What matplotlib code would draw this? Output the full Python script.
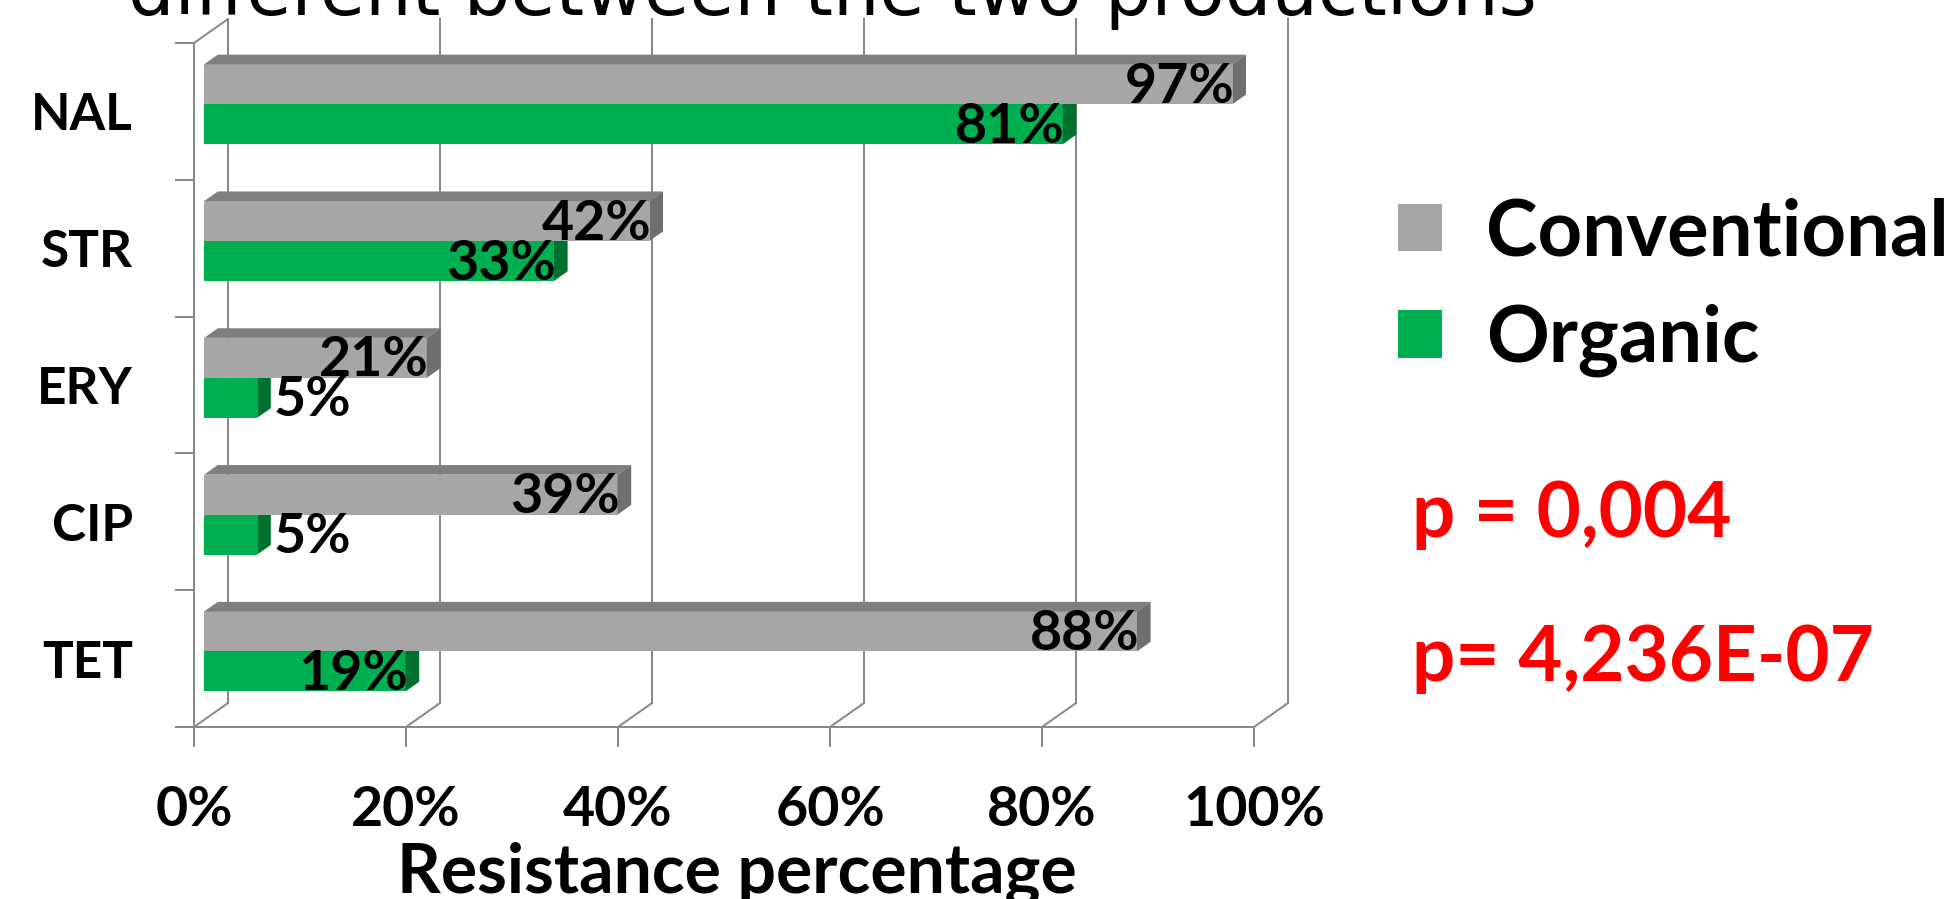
import matplotlib
matplotlib.use("Agg")
import matplotlib.pyplot as plt
from matplotlib.patches import Polygon, Patch

# ---------------- data ----------------
categories = ["NAL", "STR", "ERY", "CIP", "TET"]
conventional = [97, 42, 21, 39, 88]
organic = [81, 33, 5, 5, 19]
series_names = ["Conventional", "Organic"]
xticks = [0, 20, 40, 60, 80, 100]
xtick_labels = ["0%", "20%", "40%", "60%", "80%", "100%"]
pvalue_texts = ["p = 0,004", "p= 4,236E-07"]
title_text = "different between the two productions"
xlabel_text = "Resistance percentage"

# ---------------- style ----------------
W, H = 1960, 899
GRID = "#898989"
GRAY_FRONT, GRAY_TOP, GRAY_SIDE = "#A6A6A6", "#7F7F7F", "#6F6F6F"
GREEN_FRONT, GREEN_TOP, GREEN_SIDE = "#00B050", "#008A3E", "#00702F"
FONT = "Lato"
LW = 1.44

fig = plt.figure(figsize=(W / 100, H / 100), dpi=100)


def px_rect(x0, y0, x1, y1):
    return [x0 / W, 1 - y1 / H, (x1 - x0) / W, (y1 - y0) / H]


ax = fig.add_axes(px_rect(194, 43, 1254, 727))
n = len(categories)
ax.set_xlim(0, 100)
ax.set_ylim(0, n)

# depth vector of the pseudo-3D box (data units)
DX = 34 / 1060 * 100
DY = 24 / 684 * n
F0 = 0.30      # depth of bar front face
DEPTH = 0.40   # bar thickness (fraction of box depth)
BAR_H = 0.292

# back wall + floor grid
for t in xticks:
    ax.plot([t, t + DX], [0, DY], color=GRID, lw=LW, clip_on=False, zorder=1)
    ax.plot([t + DX, t + DX], [DY, n + DY], color=GRID, lw=LW, clip_on=False, zorder=1)
ax.plot([0, DX], [n, n + DY], color=GRID, lw=LW, clip_on=False, zorder=1)

for s in ["top", "right"]:
    ax.spines[s].set_visible(False)
for s in ["left", "bottom"]:
    ax.spines[s].set_color(GRID)
    ax.spines[s].set_linewidth(LW)
ax.set_facecolor("none")

ax.set_xticks(xticks, xtick_labels)
ax.tick_params(axis="x", length=14.4, width=LW, color=GRID, pad=27,
               labelsize=40)
for lab in ax.get_xticklabels():
    lab.set_fontfamily(FONT)
    lab.set_fontweight("bold")

ax.set_yticks(range(n + 1))
ax.set_yticklabels([])
ax.tick_params(axis="y", which="major", length=13.7, width=LW, color=GRID)
centers = [n - 1 - k + 0.5 for k in range(n)]
ax.set_yticks(centers, minor=True)
ax.set_yticklabels(categories, minor=True)
ax.tick_params(axis="y", which="minor", length=0, pad=44, labelsize=37)
for lab in ax.get_yticklabels(minor=True):
    lab.set_fontfamily(FONT)
    lab.set_fontweight("bold")

ox, oy = F0 * DX, F0 * DY
ddx, ddy = DEPTH * DX, DEPTH * DY


def bar3d(y0, v, front, top, side, z):
    ax.barh(y0, v, left=ox, height=BAR_H, align="edge", color=front,
            edgecolor="none", zorder=z)
    y1 = y0 + BAR_H
    ax.add_patch(Polygon([(ox, y1), (ox + v, y1), (ox + v + ddx, y1 + ddy),
                          (ox + ddx, y1 + ddy)], closed=True, color=top,
                         lw=0, zorder=z))
    ax.add_patch(Polygon([(ox + v, y0), (ox + v, y1), (ox + v + ddx, y1 + ddy),
                          (ox + v + ddx, y0 + ddy)], closed=True, color=side,
                         lw=0, zorder=z))


def value_label(y0, v):
    txt = f"{v}%"
    yb = y0 + 0.01
    if v < 10:
        ax.text(ox + v + ddx + 0.3, yb, txt, ha="left", va="baseline",
                fontsize=40, fontweight="bold", family=FONT, zorder=50)
    else:
        ax.text(ox + v + 0.2, yb, txt, ha="right", va="baseline",
                fontsize=40, fontweight="bold", family=FONT, zorder=50)


for k in range(n):
    c = n - 1 - k + 0.5
    g_y0 = c + oy
    o_y0 = c + oy - BAR_H
    bar3d(o_y0, organic[k], GREEN_FRONT, GREEN_TOP, GREEN_SIDE, 3 + 2 * k)
    bar3d(g_y0, conventional[k], GRAY_FRONT, GRAY_TOP, GRAY_SIDE, 4 + 2 * k)
for k in range(n):
    c = n - 1 - k + 0.5
    value_label(c + oy, conventional[k])
    value_label(c + oy - BAR_H, organic[k])

# legend
handles = [Patch(facecolor=GRAY_FRONT, edgecolor="none"),
           Patch(facecolor=GREEN_FRONT, edgecolor="none")]
fig.legend(handles, series_names, loc="upper left",
           bbox_to_anchor=(1398 / W, 1 - 197 / H), frameon=False,
           prop={"family": FONT, "weight": "bold", "size": 56},
           handlelength=0.56, handleheight=0.57, handletextpad=0.57,
           labelspacing=0.44, borderpad=0, borderaxespad=0)

# p-values
fig.text(1412 / W, 1 - 537 / H, pvalue_texts[0], color="#FF0000",
         fontsize=55, fontweight="bold", family=FONT, va="baseline")
fig.text(1412 / W, 1 - 681 / H, pvalue_texts[1], color="#FF0000",
         fontsize=55, fontweight="bold", family=FONT, va="baseline")

# axis title and cut-off slide title
fig.text(737 / W, 1 - 893 / H, xlabel_text, ha="center", va="baseline",
         fontsize=49, fontweight="bold", family=FONT)
fig.text(128 / W, 1 - 15 / H, title_text, ha="left", va="baseline",
         fontsize=52.8, family="DejaVu Sans")

fig.savefig("out.png", dpi=100)
